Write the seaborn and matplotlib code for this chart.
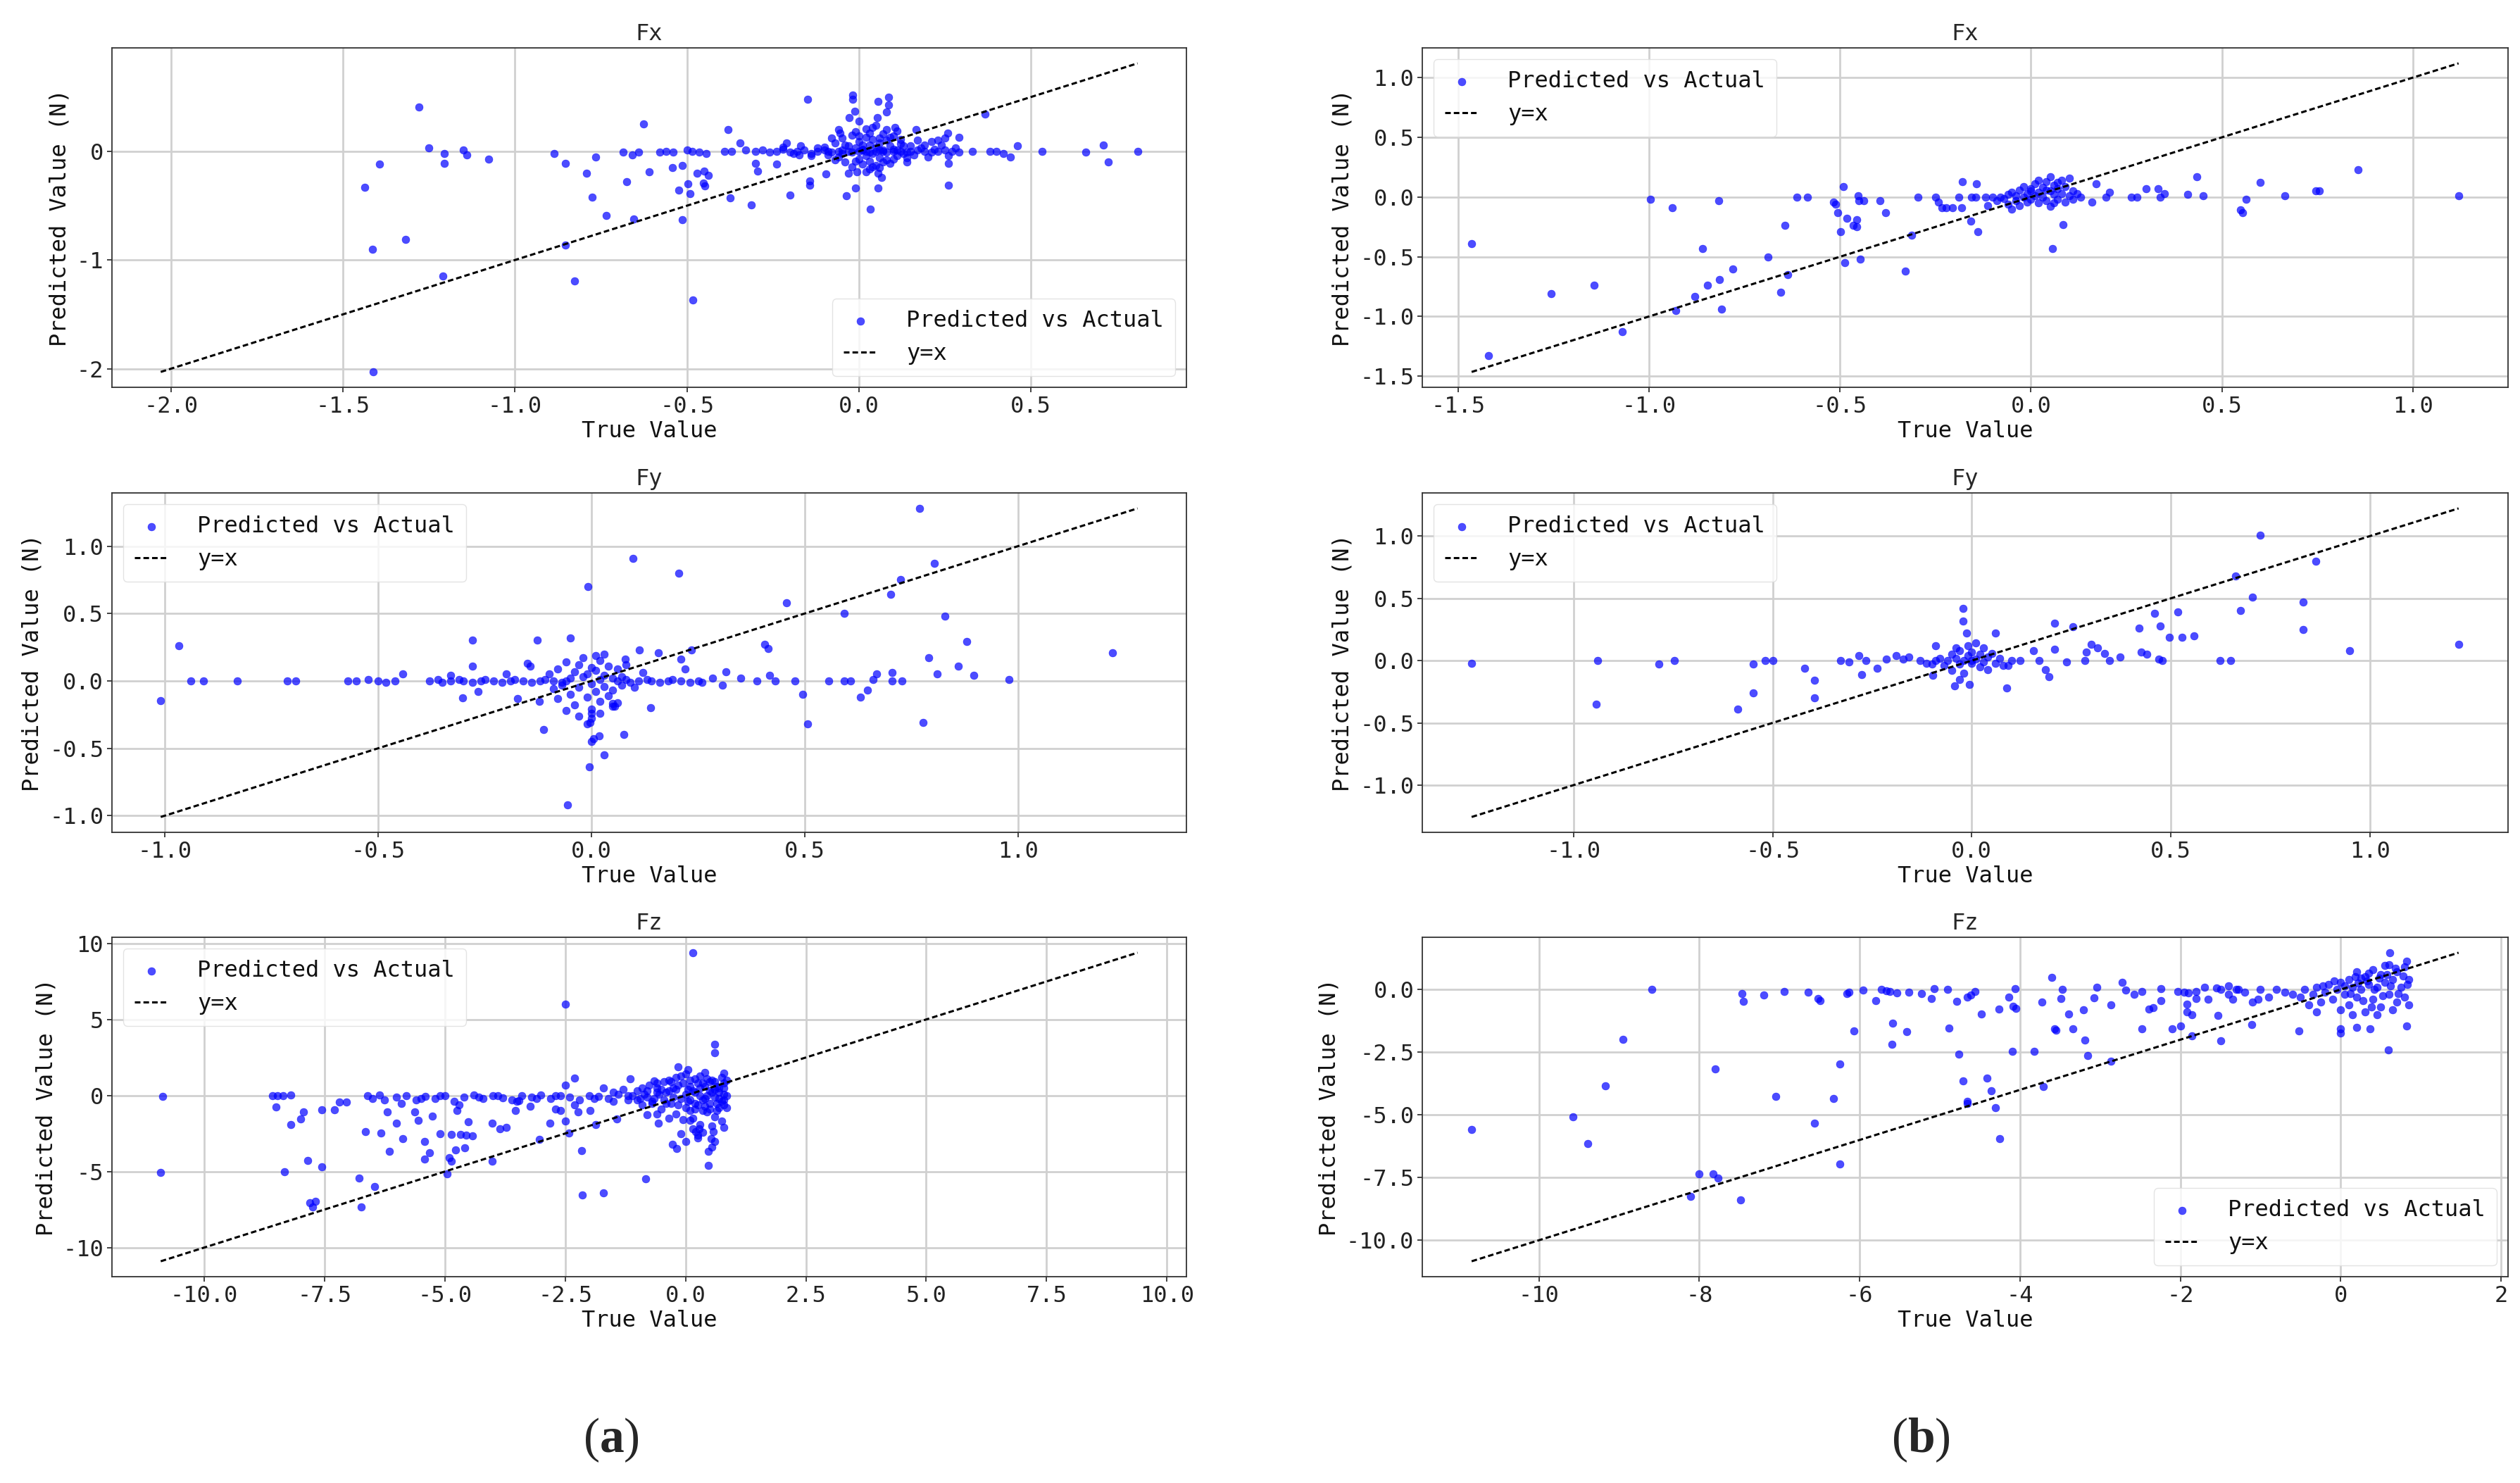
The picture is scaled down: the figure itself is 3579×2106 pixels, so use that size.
import matplotlib
matplotlib.use("Agg")
import matplotlib.pyplot as plt
import seaborn as sns
import pandas as pd
from matplotlib.ticker import MultipleLocator

# ---------------- data (true value, predicted value) ----------------
a_fx_pairs = [
    (-1.28, 0.41), (-1.25, 0.03), (-1.205, -0.02), (-1.205, -0.11), (-1.15, 0.01), (-1.14, -0.03),
    (-1.076, -0.07), (-1.394, -0.12), (-1.436, -0.33), (-1.414, -0.90), (-1.318, -0.81), (-1.209, -1.15),
    (-1.412, -2.03), (-0.886, -0.02), (-0.853, -0.11), (-0.793, -0.20), (-0.766, -0.05), (-0.775, -0.42),
    (-0.735, -0.59), (-0.675, -0.28), (-0.655, -0.62), (-0.626, 0.25), (-0.853, -0.86), (-0.826, -1.19),
    (-0.483, -1.37), (-0.686, -0.01), (-0.66, -0.03), (-0.64, -0.01), (-0.61, -0.19), (-0.58, -0.01),
    (-0.56, 0.0), (-0.54, -0.01), (-0.543, -0.15), (-0.514, -0.13), (-0.523, -0.36), (-0.497, -0.30),
    (-0.492, -0.39), (-0.514, -0.63), (-0.47, -0.20), (-0.45, -0.18), (-0.437, -0.22), (-0.452, -0.29),
    (-0.448, -0.32), (-0.50, 0.01), (-0.485, 0.0), (-0.465, -0.01), (-0.445, -0.02), (-0.381, 0.20),
    (-0.39, 0.0), (-0.37, 0.0), (-0.345, 0.08), (-0.33, 0.01), (-0.374, -0.43), (-0.314, -0.49),
    (-0.30, -0.11), (-0.294, -0.18), (-0.24, -0.12), (-0.21, 0.08), (-0.20, -0.40), (-0.174, -0.03),
    (-0.149, 0.48), (-0.143, -0.27), (-0.143, -0.31), (-0.096, -0.21), (-0.036, -0.41), (-0.011, -0.34),
    (0.033, -0.53), (-0.018, 0.52), (-0.018, 0.48), (-0.013, 0.37), (-0.029, 0.31), (0.056, 0.46),
    (0.087, 0.50), (0.087, 0.43), (0.08, 0.36), (0.053, 0.31), (0.105, 0.22), (0.04, 0.22),
    (-0.056, 0.17), (0.165, 0.20), (0.17, 0.10), (0.19, 0.06), (0.23, 0.10), (0.258, 0.17),
    (0.29, 0.13), (0.367, 0.34), (0.26, -0.31), (0.056, -0.20), (0.065, -0.24), (0.056, -0.34),
    (0.02, -0.19), (-0.007, -0.19), (0.26, -0.11), (0.14, -0.10), (0.33, 0.0), (0.38, 0.0),
    (0.40, 0.0), (0.42, -0.02), (0.44, -0.05), (0.46, 0.05), (0.532, 0.0), (0.66, -0.01),
    (0.71, 0.06), (0.724, -0.10), (0.81, 0.0),
    (-0.30, 0.0), (-0.28, 0.01), (-0.26, -0.01), (-0.24, 0.0), (-0.22, 0.02), (-0.20, -0.01),
    (-0.18, 0.0), (-0.16, 0.01), (-0.14, -0.02), (-0.12, 0.0), (-0.10, 0.01), (-0.09, 0.0),
    (-0.08, -0.01), (-0.06, 0.0), (-0.05, 0.01), (-0.03, 0.0), (-0.02, -0.01), (0.00, 0.0),
    (0.01, 0.01), (0.02, 0.0), (0.03, -0.01), (0.05, 0.0), (0.06, 0.01), (0.07, 0.0),
    (0.08, -0.01), (0.10, 0.0), (0.11, 0.01), (0.12, 0.0), (0.14, -0.01), (0.15, 0.0),
    (0.17, 0.01), (0.19, 0.0), (0.21, -0.01), (0.23, 0.0), (0.25, 0.01), (0.27, 0.0), (0.29, -0.01),
    (-0.07, 0.08), (-0.06, -0.05), (-0.05, 0.12), (-0.04, -0.10), (-0.03, 0.05), (-0.02, -0.14),
    (-0.02, 0.15), (-0.01, 0.03), (0.0, -0.07), (0.0, 0.09), (0.01, -0.12), (0.01, 0.02),
    (0.02, 0.13), (0.02, -0.04), (0.03, 0.06), (0.03, -0.09), (0.04, 0.11), (0.04, -0.02),
    (0.05, 0.04), (0.05, -0.13), (0.06, 0.08), (0.06, -0.06), (0.07, 0.16), (0.07, 0.01),
    (0.08, -0.08), (0.08, 0.10), (0.09, 0.05), (0.09, -0.11), (0.10, 0.02), (0.10, 0.14),
    (0.11, -0.04), (0.12, 0.07), (0.13, -0.02), (0.11, 0.19), (-0.06, 0.20), (0.05, 0.24),
    (0.0, 0.28), (-0.03, -0.20), (0.06, -0.15), (0.15, 0.05), (0.16, -0.03), (-0.10, 0.04),
    (-0.09, -0.03), (0.18, 0.03), (0.20, -0.05), (0.22, 0.02), (0.24, 0.06), (0.26, -0.04),
    (0.28, 0.03), (0.25, 0.12), (0.21, 0.09), (-0.12, 0.03), (-0.14, -0.04), (-0.17, 0.05),
    (-0.19, -0.02), (-0.22, 0.04),
    (-0.05, -0.02), (-0.04, 0.06), (-0.01, -0.09), (0.0, 0.14), (0.01, 0.06), (0.03, 0.17),
    (0.04, -0.14), (0.06, 0.12), (0.07, -0.10), (0.09, 0.13), (0.10, -0.07), (0.12, 0.11),
    (0.13, 0.05), (0.14, -0.06), (-0.08, 0.12), (-0.07, -0.08), (0.02, 0.21), (0.08, 0.20),
    (0.03, -0.16), (-0.01, 0.18),
]

b_fx_pairs = [
    (-1.465, -0.39), (-1.42, -1.33), (-1.257, -0.81), (-1.145, -0.74), (-1.07, -1.13), (-0.996, -0.02),
    (-0.94, -0.09), (-0.93, -0.95), (-0.88, -0.83), (-0.86, -0.43), (-0.847, -0.74), (-0.818, -0.03),
    (-0.816, -0.69), (-0.81, -0.94), (-0.78, -0.60), (-0.688, -0.50), (-0.655, -0.80), (-0.645, -0.24),
    (-0.637, -0.65), (-0.614, 0.0), (-0.586, 0.0), (-0.518, -0.04), (-0.512, -0.06), (-0.506, -0.13),
    (-0.498, -0.29), (-0.492, 0.09), (-0.488, -0.55), (-0.482, -0.18), (-0.465, -0.24), (-0.457, -0.25),
    (-0.457, -0.19), (-0.453, 0.01), (-0.45, -0.03), (-0.437, -0.03), (-0.447, -0.52), (-0.396, -0.03),
    (-0.38, -0.13), (-0.33, -0.62), (-0.312, -0.32), (-0.296, 0.0), (-0.249, 0.0), (-0.243, -0.04),
    (-0.233, -0.09), (-0.222, -0.09), (-0.206, -0.09), (-0.188, 0.0), (-0.182, -0.09), (-0.18, 0.13),
    (-0.157, -0.20), (-0.155, 0.0), (-0.145, 0.0), (-0.143, 0.11), (-0.139, -0.29), (-0.118, 0.0),
    (-0.114, -0.07), (0.057, -0.43), (0.084, -0.23), (0.16, -0.04), (0.171, 0.11), (0.196, 0.0),
    (0.206, 0.04), (0.263, 0.0), (0.278, 0.0), (0.302, 0.07), (0.333, 0.07), (0.339, 0.0),
    (0.349, 0.03), (0.41, 0.02), (0.435, 0.17), (0.451, 0.01), (0.549, -0.11), (0.555, -0.13),
    (0.563, -0.02), (0.60, 0.12), (0.665, 0.01), (0.747, 0.05), (0.755, 0.05), (0.857, 0.23),
    (1.12, 0.01),
    (-0.07, -0.01), (-0.06, 0.02), (-0.06, -0.06), (-0.05, -0.10), (-0.05, 0.04), (-0.04, -0.03),
    (-0.04, 0.01), (-0.03, 0.06), (-0.03, -0.07), (-0.02, 0.00), (-0.02, 0.09), (-0.01, -0.04),
    (-0.01, 0.03), (0.0, 0.07), (0.0, -0.02), (0.01, 0.01), (0.01, 0.11), (0.02, -0.05),
    (0.02, 0.04), (0.03, 0.08), (0.03, 0.0), (0.04, 0.13), (0.04, -0.03), (0.05, 0.05),
    (0.05, 0.17), (0.05, -0.08), (0.06, 0.02), (0.06, 0.10), (0.07, -0.02), (0.07, 0.07),
    (0.08, 0.14), (0.08, 0.03), (0.09, -0.04), (0.09, 0.09), (0.10, 0.01), (0.10, 0.16),
    (0.11, 0.05), (0.11, -0.02), (0.12, 0.03), (0.13, 0.0), (-0.08, 0.0), (-0.09, -0.03),
    (-0.10, 0.0), (0.02, 0.14), (0.07, 0.12), (0.0, 0.05), (0.04, 0.06), (0.06, -0.05),
]

a_fy_pairs = [
    (-1.01, -0.146), (-0.968, 0.26), (-0.94, 0.0), (-0.91, 0.0), (-0.83, 0.0), (-0.713, 0.0),
    (-0.693, 0.0), (-0.572, 0.0), (-0.551, 0.0), (-0.524, 0.01), (-0.50, 0.0), (-0.482, -0.01),
    (-0.461, 0.0), (-0.443, 0.05), (-0.33, 0.04), (-0.302, -0.125), (-0.279, 0.30), (-0.279, 0.11),
    (-0.266, -0.08), (-0.20, 0.05), (-0.173, -0.13), (-0.15, 0.13), (-0.144, 0.11), (-0.128, 0.30),
    (-0.122, -0.15), (-0.113, -0.36), (-0.05, 0.32), (-0.056, -0.92), (-0.005, -0.64), (-0.009, 0.70),
    (0.0, -0.45), (0.004, -0.43), (0.018, -0.41), (0.029, -0.55), (0.076, -0.40), (-0.004, -0.31),
    (0.0, -0.24), (0.049, -0.17), (0.054, -0.19), (0.139, -0.20), (0.097, 0.91), (0.205, 0.80),
    (0.079, 0.16), (0.112, 0.23), (0.157, 0.21), (0.21, 0.16), (0.22, 0.09), (0.234, 0.23),
    (0.259, -0.01), (0.283, 0.02), (0.306, -0.03), (0.315, 0.07), (0.35, 0.02), (0.387, 0.0),
    (0.418, 0.04), (0.43, 0.0), (0.477, 0.0), (0.405, 0.27), (0.414, 0.24), (0.457, 0.58),
    (0.495, -0.10), (0.506, -0.32), (0.556, 0.0), (0.592, 0.0), (0.607, 0.0), (0.592, 0.50),
    (0.63, -0.12), (0.646, -0.07), (0.66, 0.01), (0.669, 0.05), (0.702, 0.64), (0.705, 0.06),
    (0.705, 0.0), (0.727, 0.0), (0.724, 0.75), (0.769, 1.28), (0.778, -0.31), (0.79, 0.17),
    (0.803, 0.87), (0.81, 0.05), (0.828, 0.48), (0.859, 0.11), (0.88, 0.29), (0.896, 0.04),
    (0.979, 0.01), (1.222, 0.21),
    (-0.38, 0.0), (-0.36, 0.01), (-0.35, -0.01), (-0.33, 0.0), (-0.31, 0.01), (-0.30, 0.0),
    (-0.28, -0.01), (-0.26, 0.0), (-0.25, 0.01), (-0.23, 0.0), (-0.21, -0.01), (-0.19, 0.0),
    (-0.18, 0.01), (-0.16, 0.0), (-0.14, -0.01), (-0.12, 0.0), (-0.11, 0.01), (-0.09, 0.0),
    (-0.07, -0.01), (-0.06, 0.0), (0.06, 0.0), (0.08, 0.01), (0.09, -0.01), (0.11, 0.0),
    (0.13, 0.01), (0.14, 0.0), (0.16, -0.01), (0.18, 0.0), (0.19, 0.01), (0.21, 0.0),
    (0.23, -0.01), (0.25, 0.0),
    (-0.10, 0.05), (-0.09, -0.06), (-0.08, 0.09), (-0.07, -0.03), (-0.06, 0.14), (-0.05, 0.02),
    (-0.05, -0.10), (-0.04, 0.07), (-0.04, -0.18), (-0.03, 0.12), (-0.03, -0.05), (-0.02, 0.03),
    (-0.02, 0.17), (-0.01, -0.12), (-0.01, 0.05), (0.0, -0.02), (0.0, 0.10), (0.0, -0.21),
    (0.01, 0.08), (0.01, -0.08), (0.02, 0.01), (0.02, 0.15), (0.02, -0.15), (0.03, 0.04),
    (0.03, -0.04), (0.04, 0.11), (0.04, -0.11), (0.05, 0.02), (0.05, -0.07), (0.06, 0.09),
    (0.06, -0.16), (0.07, 0.03), (0.07, -0.03), (0.08, 0.12), (-0.08, -0.13), (-0.06, -0.22),
    (0.01, 0.19), (0.03, 0.20), (-0.03, -0.26), (0.0, -0.28), (0.02, -0.24), (-0.01, -0.32),
    (0.05, -0.19), (0.10, -0.05), (0.12, 0.06),
]

b_fy_pairs = [
    (-1.256, -0.02), (-0.94, 0.0), (-0.943, -0.35), (-0.785, -0.03), (-0.746, 0.0), (-0.587, -0.39),
    (-0.548, -0.03), (-0.548, -0.26), (-0.519, 0.0), (-0.499, 0.0), (-0.42, -0.06), (-0.395, -0.16),
    (-0.395, -0.30), (-0.329, 0.0), (-0.309, -0.01), (-0.284, 0.04), (-0.276, -0.11), (-0.266, 0.0),
    (-0.237, -0.06), (-0.215, 0.01), (-0.19, 0.04), (-0.172, 0.01), (-0.157, 0.03), (-0.129, 0.0),
    (-0.114, -0.02), (-0.098, -0.12), (-0.09, 0.12), (-0.043, -0.20), (-0.031, -0.15), (-0.006, -0.19),
    (-0.022, 0.42), (-0.022, 0.32), (-0.012, 0.22), (0.059, 0.22), (0.088, -0.22), (0.092, -0.04),
    (0.121, 0.0), (0.155, 0.08), (0.17, 0.0), (0.186, -0.07), (0.194, -0.13), (0.209, 0.09),
    (0.239, -0.01), (0.209, 0.30), (0.254, 0.27), (0.284, 0.0), (0.288, 0.07), (0.301, 0.13),
    (0.317, 0.10), (0.333, 0.06), (0.346, 0.0), (0.372, 0.03), (0.42, 0.26), (0.425, 0.07),
    (0.44, 0.05), (0.46, 0.38), (0.47, 0.01), (0.478, 0.0), (0.474, 0.28), (0.497, 0.19),
    (0.517, 0.39), (0.528, 0.19), (0.558, 0.20), (0.624, 0.0), (0.65, 0.0), (0.663, 0.68),
    (0.675, 0.40), (0.706, 0.51), (0.724, 1.01), (0.832, 0.47), (0.832, 0.25), (0.865, 0.80),
    (0.949, 0.08), (1.223, 0.13),
    (-0.08, 0.02), (-0.07, -0.04), (-0.06, 0.0), (-0.05, 0.05), (-0.05, -0.08), (-0.04, 0.02),
    (-0.03, -0.03), (-0.03, 0.08), (-0.02, 0.0), (-0.02, -0.10), (-0.01, 0.04), (-0.01, 0.12),
    (0.0, -0.02), (0.0, 0.07), (0.01, 0.01), (0.01, 0.14), (0.02, -0.05), (0.02, 0.05),
    (0.03, 0.10), (0.03, -0.01), (0.04, 0.03), (0.04, -0.07), (0.05, 0.06), (0.06, -0.02),
    (0.07, 0.02), (0.08, -0.04), (-0.10, -0.03), (-0.09, 0.0), (0.10, 0.0), (0.0, 0.0), (-0.04, 0.10),
]

a_fz_pairs = [
    (-10.86, -0.05), (-10.9, -5.07), (-8.58, 0.0), (-8.48, 0.0), (-8.36, 0.0), (-8.2, 0.05),
    (-8.5, -0.76), (-8.33, -5.0), (-8.2, -1.9), (-8.0, -1.53), (-7.93, -1.07), (-7.85, -4.26),
    (-7.8, -7.07), (-7.75, -7.34), (-7.69, -6.97), (-7.56, -0.94), (-7.56, -4.7), (-7.29, -0.94),
    (-7.19, -0.42), (-7.05, -0.42), (-6.78, -5.44), (-6.73, -7.34), (-6.65, -2.36), (-6.46, -6.0),
    (-6.6, 0.0), (-6.5, -0.2), (-6.35, 0.05), (-6.25, -0.3), (-6.33, -2.45), (-6.2, -1.07),
    (-6.15, -3.65), (-6.0, -1.8), (-5.87, -2.82), (-5.63, -1.07), (-5.55, -1.62), (-5.42, -3.0),
    (-5.42, -4.2), (-5.31, -3.75), (-5.26, -1.35), (-5.1, -2.5), (-4.95, -5.17), (-4.91, -4.1),
    (-4.87, -4.3), (-4.87, -2.55), (-4.78, -3.56), (-4.75, -0.98), (-4.67, -2.55), (-4.55, -2.6),
    (-4.43, -2.64), (-4.59, -3.43), (-4.51, -1.72), (-4.02, -1.8), (-4.02, -4.3), (-3.86, -2.18),
    (-3.73, -2.08), (-3.54, -0.98), (-3.46, -0.33), (-3.22, -0.7), (-3.03, -2.88), (-2.82, -1.8),
    (-2.7, -0.89), (-2.59, -0.98), (-2.5, 0.68), (-2.5, 6.0), (-2.5, -1.66), (-2.42, -2.49),
    (-2.3, 1.14), (-2.23, -1.07), (-2.16, -3.62), (-2.14, -6.55), (-1.98, -0.98), (-1.87, -1.9),
    (-1.71, -6.38), (-1.42, -1.53), (-1.15, 1.09), (-0.8, -1.25), (-0.83, -5.46), (-0.65, 0.96),
    (-0.57, -1.8), (-0.27, -3.19), (-0.19, -3.47), (0.15, 9.39), (0.6, 3.36), (0.6, 2.8),
    (0.8, 1.48), (0.48, -4.58), (0.48, -3.65), (0.53, -2.82), (0.57, -2.36), (0.8, -2.08),
    (0.8, -0.6), (0.29, -2.18), (0.21, -2.36), (0.1, -1.62), (-0.16, 1.88),
    (-6.0, -0.1), (-5.8, 0.0), (-5.6, -0.3), (-5.4, -0.05), (-5.2, -0.2), (-5.0, 0.0),
    (-4.8, -0.4), (-4.6, -0.1), (-4.4, 0.05), (-4.2, -0.2), (-4.0, 0.0), (-3.8, -0.15),
    (-3.6, -0.3), (-3.4, 0.0), (-3.2, -0.1), (-3.0, 0.05), (-2.8, -0.2), (-2.6, 0.0),
    (-2.4, -0.1), (-2.2, -0.3), (-2.0, 0.0), (-1.8, -0.05), (-1.6, -0.2), (-1.4, 0.1),
    (-1.2, 0.0), (-1.0, -0.3), (-0.8, -0.1), (-0.6, 0.2),
    (-5.9, -0.5), (-5.5, -0.2), (-5.1, 0.0), (-4.7, -0.6), (-4.3, -0.1), (-3.9, 0.0),
    (-3.5, -0.4), (-3.1, -0.2), (-2.7, 0.0), (-2.3, -0.6), (-1.9, -0.2), (-1.5, -0.4),
    (-1.1, 0.0), (-0.7, -0.5),
    (-0.8, 0.3), (-0.7, -0.4), (-0.6, 0.5), (-0.5, -0.9), (-0.4, 0.2), (-0.3, -0.5),
    (-0.3, 0.9), (-0.2, -1.2), (-0.2, 0.4), (-0.1, -0.2), (-0.1, 1.3), (0.0, 0.1),
    (0.0, -0.8), (0.05, 1.7), (0.1, -0.3), (0.1, 0.6), (0.15, -1.5), (0.2, 0.2),
    (0.2, 1.1), (0.25, -0.6), (0.3, 0.0), (0.3, -1.9), (0.35, 0.8), (0.4, -0.2),
    (0.4, 1.5), (0.45, -1.1), (0.5, 0.3), (0.5, -0.5), (0.55, 1.0), (0.6, -0.1),
    (0.6, -1.4), (0.65, 0.6), (0.7, -0.8), (0.7, 0.2), (0.75, 1.2), (0.8, -0.3),
    (0.8, 0.5), (-0.05, -1.6), (0.15, -2.2), (0.25, -2.6), (0.35, -1.0), (0.45, 0.0),
    (0.55, -2.0), (0.65, -0.5), (0.75, -1.7), (-0.15, 0.7), (-0.25, -0.1), (-0.35, 0.3),
    (-0.45, -0.3), (-0.55, 0.1), (0.05, 0.4), (0.1, -1.0), (0.2, -0.9), (0.3, 0.5),
    (0.4, -0.7), (0.5, 0.9), (0.6, 0.4), (0.7, -0.2), (0.8, 0.1),
    (-1.0, 0.3), (-0.95, -0.2), (-0.9, 0.5), (-0.85, 0.1), (-0.75, 0.7), (-0.65, -0.2),
    (-0.6, 0.8), (-0.5, 0.4), (-0.45, 0.9), (-0.4, -0.5), (-0.35, 1.0), (-0.25, 0.5),
    (-0.2, 1.2), (-0.15, -0.6), (-0.05, 0.8), (0.0, 1.4), (0.05, -0.4), (0.1, 1.0),
    (0.15, 0.3), (0.2, -0.5), (0.25, 0.8), (0.3, 1.3), (0.35, -0.3), (0.4, 0.6),
    (0.45, 1.1), (0.5, -0.9), (0.55, 0.2), (0.6, 0.9), (0.65, -1.0), (0.7, 0.5),
    (0.75, -0.4), (0.8, 0.8), (0.85, 0.0), (0.85, -0.8), (0.85, 1.0), (0.6, -3.0),
    (0.55, -3.4), (0.25, -2.8), (-0.1, -2.5), (-0.35, -1.5), (-0.6, -1.2), (0.0, -3.0),
    (0.35, -2.4), (-1.3, 0.4), (-1.5, 0.2), (-1.7, 0.5), (-1.2, -0.3), (-0.9, -0.6),
]

b_fz_pairs = [
    (-10.84, -5.58), (-9.58, -5.08), (-9.39, -6.14), (-9.17, -3.83), (-8.95, -1.99), (-8.59, 0.01),
    (-8.11, -8.25), (-8.0, -7.36), (-7.83, -7.34), (-7.77, -7.53), (-7.8, -3.18), (-7.49, -8.4),
    (-7.47, -0.16), (-7.45, -0.46), (-7.2, -0.21), (-7.05, -4.27), (-6.94, -0.07), (-6.64, -0.1),
    (-6.56, -5.33), (-6.52, -0.35), (-6.49, -0.43), (-6.33, -4.35), (-6.25, -2.96), (-6.25, -6.95),
    (-6.16, -0.16), (-6.13, -0.1), (-6.07, -1.66), (-5.96, -0.01), (-5.8, -0.43), (-5.73, 0.0),
    (-5.67, -0.04), (-5.62, -0.07), (-5.54, -0.12), (-5.59, -1.35), (-5.6, -2.18), (-5.41, -1.68),
    (-5.39, -0.1), (-5.23, -0.16), (-5.11, -0.37), (-5.07, 0.04), (-4.9, 0.01), (-4.89, -1.55),
    (-4.79, -0.48), (-4.76, -2.57), (-4.71, -3.65), (-4.66, -4.47), (-4.66, -4.55), (-4.66, -0.29),
    (-4.61, -0.23), (-4.56, -0.07), (-4.48, -0.99), (-4.41, -3.52), (-4.36, -4.05), (-4.31, -4.72),
    (-4.25, -5.95), (-4.26, -0.79), (-4.14, -0.29), (-4.1, -2.46), (-4.06, 0.04), (-4.09, -0.66),
    (-4.05, -0.76), (-3.82, -2.46), (-3.73, -0.51), (-3.71, -3.88), (-3.6, 0.49), (-3.57, -1.57),
    (-3.55, -1.63), (-3.49, -0.35), (-3.47, 0.01), (-3.39, -0.99), (-3.34, -1.57), (-3.21, -0.81),
    (-3.19, -2.02), (-3.16, -2.63), (-3.08, -0.32), (-3.04, 0.08), (-2.87, -0.62), (-2.87, -2.85),
    (-2.73, 0.3), (-2.68, -0.01), (-2.58, -0.18), (-2.48, -0.07), (-2.48, -1.57), (-2.39, -0.79),
    (-2.34, -0.73), (-2.24, 0.04), (-2.24, -0.43), (-2.1, -1.57), (-2.0, -1.44), (-2.03, -0.07),
    (-1.95, -0.1), (-1.9, -0.12), (-1.92, -0.57), (-1.92, -0.9), (-1.86, -1.01), (-1.86, -1.85),
    (-1.8, -0.07), (-1.8, -0.37), (-1.53, -1.04), (-1.5, -2.04), (-1.5, 0.0), (-1.4, 0.15),
    (-1.35, -0.4), (-1.28, 0.0), (-1.11, -1.4), (-1.03, -0.4), (-0.52, -1.66), (0.0, -1.57),
    (0.0, -1.74), (0.2, -1.51), (0.37, -1.57), (0.59, -2.4), (0.61, 1.47), (0.82, -1.46),
    (0.82, 1.12),
    (-0.5, -0.3), (-0.45, 0.0), (-0.4, -0.6), (-0.35, -0.2), (-0.3, 0.1), (-0.25, -0.5),
    (-0.2, -0.1), (-0.15, 0.2), (-0.1, -0.4), (-0.05, 0.0), (0.0, -0.8), (0.0, 0.3),
    (0.05, -0.2), (0.1, 0.4), (0.1, -0.6), (0.15, 0.1), (0.2, -0.3), (0.2, 0.7),
    (0.25, 0.0), (0.3, -0.9), (0.3, 0.5), (0.35, 0.2), (0.4, -0.4), (0.4, 0.8),
    (0.45, 0.1), (0.5, -0.7), (0.5, 0.6), (0.55, 0.3), (0.6, -0.2), (0.6, 1.0),
    (0.65, 0.4), (0.7, -0.5), (0.7, 0.7), (0.75, 0.1), (0.8, -0.3), (0.8, 0.9),
    (0.85, 0.4), (0.85, -0.6), (-0.3, -0.9), (0.15, -1.0), (0.45, -1.0), (0.65, -0.8),
    (-0.6, -0.2), (-0.7, -0.1), (-0.8, 0.0), (-0.9, -0.3), (-1.0, 0.0), (-1.1, -0.5),
    (-1.2, -0.1), (-1.3, 0.0), (-1.4, -0.2), (-1.55, 0.05), (-1.65, -0.4), (-1.7, 0.1),
    (0.55, 0.95), (0.35, 0.65), (0.25, 0.45),
    (0.05, 0.15), (0.12, -0.15), (0.22, 0.25), (0.28, -0.45), (0.33, 0.35), (0.42, 0.0),
    (0.48, 0.45), (0.52, -0.25), (0.58, 0.6), (0.62, 0.15), (0.68, 0.85), (0.72, -0.15),
    (0.78, 0.55), (0.83, 0.2), (0.38, -0.7), (0.18, 0.5), (-0.08, 0.35), (-0.22, 0.15),
]

panel_titles = ["Fx", "Fx", "Fy", "Fy", "Fz", "Fz"]
scatter_label = "Predicted vs Actual"
line_label = "y=x"
x_label = "True Value"
y_label = "Predicted Value (N)"

# ---------------- style ----------------
sns.set_theme(style="whitegrid")
MONO = ["DejaVu Sans Mono"]
plt.rcParams.update({
    "font.family": MONO,
    "axes.unicode_minus": False,
    "axes.edgecolor": "#333333",
    "axes.linewidth": 1.3,
    "grid.color": "#d0d0d0",
    "grid.linewidth": 2.0,
    "xtick.bottom": True,
    "ytick.left": True,
    "xtick.major.size": 5,
    "ytick.major.size": 5,
    "xtick.major.width": 1.2,
    "ytick.major.width": 1.2,
    "xtick.color": "#222222",
    "ytick.color": "#222222",
    "xtick.labelsize": 23,
    "ytick.labelsize": 23,
    "axes.labelsize": 23,
    "axes.titlesize": 23,
    "axes.labelcolor": "#111111",
    "mathtext.fontset": "custom",
    "mathtext.rm": "Liberation Serif",
    "mathtext.bf": "Liberation Serif:bold",
})

fig = plt.figure(figsize=(35.79, 21.06), dpi=100)

col_left = [0.0444, 0.5644]
col_width = [0.4264, 0.4308]
row_bottom = [0.7388, 0.4387, 0.1391]
row_height = 0.2289

panels = [
    (0, 0, a_fx_pairs, 0.5, 1.0, "lower right"),
    (0, 1, b_fx_pairs, 0.5, 0.5, "upper left"),
    (1, 0, a_fy_pairs, 0.5, 0.5, "upper left"),
    (1, 1, b_fy_pairs, 0.5, 0.5, "upper left"),
    (2, 0, a_fz_pairs, 2.5, 5.0, "upper left"),
    (2, 1, b_fz_pairs, 2.0, 2.5, "lower right"),
]

for i, (r, c, pairs, xstep, ystep, loc) in enumerate(panels):
    ax = fig.add_axes([col_left[c], row_bottom[r], col_width[c], row_height])
    df = pd.DataFrame(pairs, columns=["true", "pred"])
    sns.scatterplot(data=df, x="true", y="pred", ax=ax, color="blue", alpha=0.7,
                    s=62, edgecolor="blue", linewidth=0.4, label=scatter_label, zorder=3)
    lo = min(df["true"].min(), df["pred"].min())
    hi = max(df["true"].max(), df["pred"].max())
    ax.plot([lo, hi], [lo, hi], linestyle=(0, (2.6, 1.4)), color="black", lw=2.2,
            label=line_label, zorder=4)
    ax.xaxis.set_major_locator(MultipleLocator(xstep))
    ax.yaxis.set_major_locator(MultipleLocator(ystep))
    ax.grid(True, zorder=0)
    ax.set_axisbelow(True)
    ax.set_title(panel_titles[i], pad=8)
    ax.set_xlabel(x_label, labelpad=3)
    ax.set_ylabel(y_label, labelpad=6)
    for sp in ax.spines.values():
        sp.set_visible(True)
        sp.set_color("#333333")
        sp.set_linewidth(1.3)
    leg = ax.legend(loc=loc, fontsize=23, handlelength=1.5, handletextpad=1.3,
                    borderpad=0.5, labelspacing=0.5, framealpha=0.8, fancybox=True,
                    edgecolor="#dddddd", markerscale=1.0)
    for txt in leg.get_texts():
        txt.set_color("#111111")

fig.text(0.2425, 0.029, r"$\mathrm{(}\mathbf{a}\mathrm{)}$", fontsize=50, ha="center", va="center")
fig.text(0.7622, 0.029, r"$\mathrm{(}\mathbf{b}\mathrm{)}$", fontsize=50, ha="center", va="center")

fig.savefig("out.png", dpi=100, facecolor="white")
